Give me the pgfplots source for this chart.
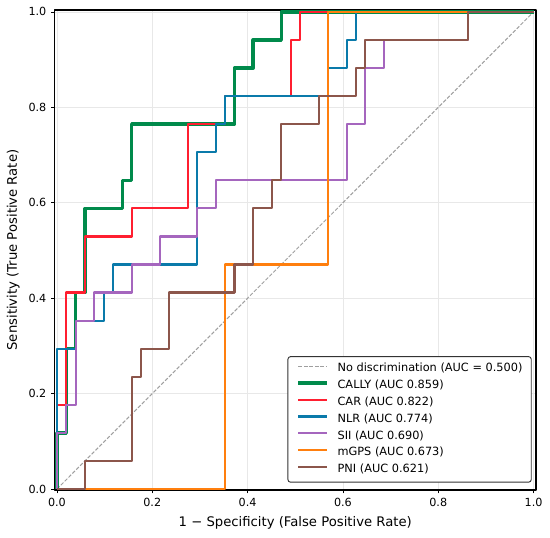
\documentclass[border=0pt]{standalone}
\usepackage{fontspec}
\setmainfont{DejaVu Sans}
\usepackage{pgfplots}
\pgfplotsset{compat=1.18}
\definecolor{cally}{HTML}{008A4B}
\definecolor{car}{HTML}{FF1F30}
\definecolor{nlr}{HTML}{0A7AAA}
\definecolor{sii}{HTML}{A566BE}
\definecolor{mgps}{HTML}{FF7F0E}
\definecolor{pni}{HTML}{8C564B}
\begin{document}
\begin{tikzpicture}
\begin{axis}[
  scale only axis,
  width=361.1pt, height=360pt,
  xmin=-0.005, xmax=1.005, ymin=-0.002, ymax=1.004,
  xtick={0,0.2,0.4,0.6,0.8,1.0}, ytick={0,0.2,0.4,0.6,0.8,1.0},
  xticklabels={0.0,0.2,0.4,0.6,0.8,1.0}, yticklabels={0.0,0.2,0.4,0.6,0.8,1.0},
  tick align=outside, major tick length=2.6pt,
  tick style={black, line width=0.6pt},
  xtick pos=bottom, ytick pos=left,
  /pgf/number format/assume math mode=true,
  tick label style={font=\fontsize{8.4}{10}\selectfont},
  axis line style={black, line width=0.8pt},
  grid=major, major grid style={black!9, line width=0.5pt},
  xlabel={1 − Specificity (False Positive Rate)},
  ylabel={Sensitivity (True Positive Rate)},
  label style={font=\fontsize{9.9}{11.8}\selectfont},
  x label style={at={(axis description cs:0.5,-0.0688)}, anchor=center},
  y label style={at={(axis description cs:-0.0858,0.5)}, anchor=center, rotate=0},
  legend cell align=left,
  legend style={at={(axis description cs:1,0)}, anchor=south east,
    xshift=-3.2pt, yshift=5.5pt,
    draw=black!80, line width=0.7pt, rounded corners=2pt, fill=white,
    font=\fontsize{8.5}{10}\selectfont,
    inner xsep=6.6pt, inner ysep=5.2pt,
    row sep=4.4pt, column sep=6.3pt,
    nodes={inner xsep=0pt, inner ysep=0pt, text height=6.3pt, text depth=1.9pt}},
  legend image code/.code={\draw[#1, line cap=butt] (0pt,2.2pt) -- (21.75pt,2.2pt);},
  line join=round,
]
\addplot[gray!75, line width=0.75pt, dash pattern=on 2.8pt off 1.3pt] coordinates {(0,0) (1,1)};
\addlegendentry{No discrimination (AUC = 0.500)}

\addplot[cally, line width=2.6pt] coordinates {
(0,0)(0,0.1176)(0.0196,0.1176)(0.0196,0.2941)(0.0392,0.2941)(0.0392,0.4118)(0.0588,0.4118)(0.0588,0.5882)(0.1373,0.5882)(0.1373,0.6471)(0.1569,0.6471)(0.1569,0.7647)(0.3725,0.7647)(0.3725,0.8824)(0.4118,0.8824)(0.4118,0.9412)(0.4706,0.9412)(0.4706,1)(1,1)};
\addlegendentry{CALLY (AUC 0.859)}

\addplot[car, line width=1.6pt] coordinates {
(0,0)(0,0.1765)(0.0196,0.1765)(0.0196,0.4118)(0.0588,0.4118)(0.0588,0.5294)(0.1569,0.5294)(0.1569,0.5882)(0.2745,0.5882)(0.2745,0.7647)(0.3529,0.7647)(0.3529,0.8235)(0.4902,0.8235)(0.4902,0.9412)(0.5098,0.9412)(0.5098,1)(1,1)};
\addlegendentry{CAR (AUC 0.822)}

\addplot[nlr, line width=1.6pt] coordinates {
(0,0)(0,0.2941)(0.0392,0.2941)(0.0392,0.3529)(0.0980,0.3529)(0.0980,0.4118)(0.1176,0.4118)(0.1176,0.4706)(0.2941,0.4706)(0.2941,0.7059)(0.3333,0.7059)(0.3333,0.7647)(0.3529,0.7647)(0.3529,0.8235)(0.5686,0.8235)(0.5686,0.8824)(0.6078,0.8824)(0.6078,0.9412)(0.6275,0.9412)(0.6275,1)(1,1)};
\addlegendentry{NLR (AUC 0.774)}

\addplot[sii, line width=1.6pt] coordinates {
(0,0)(0,0.1176)(0.0196,0.1176)(0.0196,0.1765)(0.0392,0.1765)(0.0392,0.3529)(0.0784,0.3529)(0.0784,0.4118)(0.1569,0.4118)(0.1569,0.4706)(0.2157,0.4706)(0.2157,0.5294)(0.2941,0.5294)(0.2941,0.5882)(0.3333,0.5882)(0.3333,0.6471)(0.6078,0.6471)(0.6078,0.7647)(0.6471,0.7647)(0.6471,0.8824)(0.6863,0.8824)(0.6863,0.9412)(0.8627,0.9412)(0.8627,1)(1,1)};
\addlegendentry{SII (AUC 0.690)}

\addplot[mgps, line width=1.6pt] coordinates {
(0,0)(0.3529,0)(0.3529,0.4706)(0.5686,0.4706)(0.5686,1)(1,1)};
\addlegendentry{mGPS (AUC 0.673)}

\addplot[pni, line width=1.6pt] coordinates {
(0,0)(0.0588,0)(0.0588,0.0588)(0.1569,0.0588)(0.1569,0.2353)(0.1765,0.2353)(0.1765,0.2941)(0.2353,0.2941)(0.2353,0.4118)(0.3725,0.4118)(0.3725,0.4706)(0.4118,0.4706)(0.4118,0.5882)(0.4510,0.5882)(0.4510,0.6471)(0.4706,0.6471)(0.4706,0.7647)(0.5490,0.7647)(0.5490,0.8235)(0.6275,0.8235)(0.6275,0.8824)(0.6471,0.8824)(0.6471,0.9412)(0.8627,0.9412)(0.8627,1)(1,1)};
\addlegendentry{PNI (AUC 0.621)}
\end{axis}
\pgfresetboundingbox
\path ([shift={(-40.9pt,-35.25pt)}]current axis.south west) rectangle ([shift={(10.5pt,7.5pt)}]current axis.north east);
\end{tikzpicture}
\end{document}
